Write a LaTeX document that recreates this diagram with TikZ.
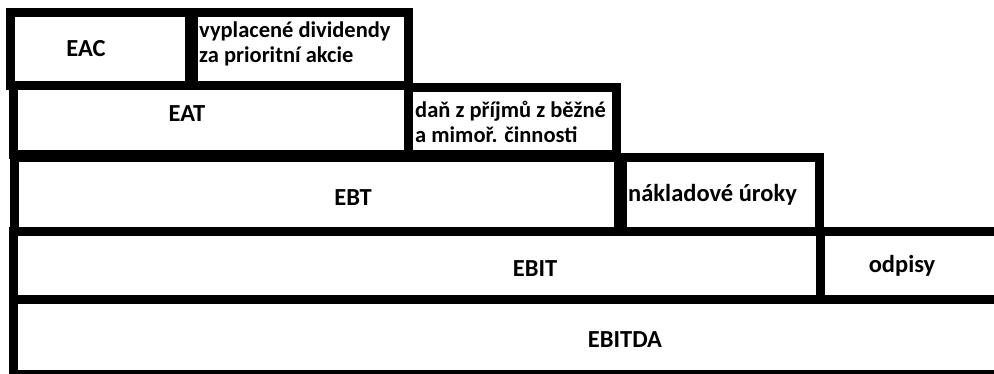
\documentclass[tikz,border=0pt]{standalone}
\usepackage{fontspec}
\setmainfont{Carlito}

\begin{document}
\begin{tikzpicture}[x=1pt,y=-1pt,
	box/.style={draw,line width=9},
	lbl/.style={font=\fontsize{24.5}{25}\selectfont\bfseries,inner sep=0},
	lbltwo/.style={font=\fontsize{22.5}{25}\selectfont\bfseries,inner sep=0,align=left,anchor=base west}]
	\useasboundingbox (0,0) rectangle (994,374);
	\clip (0,0) rectangle (994,374);

	% EAC
	\draw [box] (10.5,12.5) rectangle (189,85.5);
	\draw [box] (193.5,12.5) rectangle (408,85.5);
	\node [lbl,anchor=base] (eac) at (86,57) {EAC};
	\node [lbltwo] (divid) at (199,63) {vyplacené dividendy\\za prioritní akcie};

	% EAT
	\draw [box] (13,85.5) rectangle (408,155);
	\draw [box] (408,88) rectangle (616.5,155);
	\node [lbl,anchor=base] (eat) at (187,122) {EAT};
	\node [lbltwo] (dan) at (415,143) {daň z příjmů z běžné\\a mimoř. činnosti};

	% EBT
	\draw [box] (14,157.5) rectangle (618,231.5);
	\draw [box] (622.5,157.5) rectangle (819,231.5);
	\node [lbl,anchor=base] (ebt) at (353,206) {EBT};
	\node [lbl,anchor=base west] (uroky) at (628,202) {nákladové úroky};

	% EBIT
	\draw [box] (13.5,231.5) rectangle (820,300);
	\draw [box] (820,231.5) rectangle (1010,300);
	\node [lbl,anchor=base] (ebit) at (535,277) {EBIT};
	\node [lbl,anchor=base] (odpisy) at (902,273) {odpisy};

	% EBITDA
	\draw [box] (13.5,300) rectangle (1010,374.5);
	\node [lbl,anchor=base] (ebitda) at (625,347) {EBITDA};

\end{tikzpicture}
\end{document}
